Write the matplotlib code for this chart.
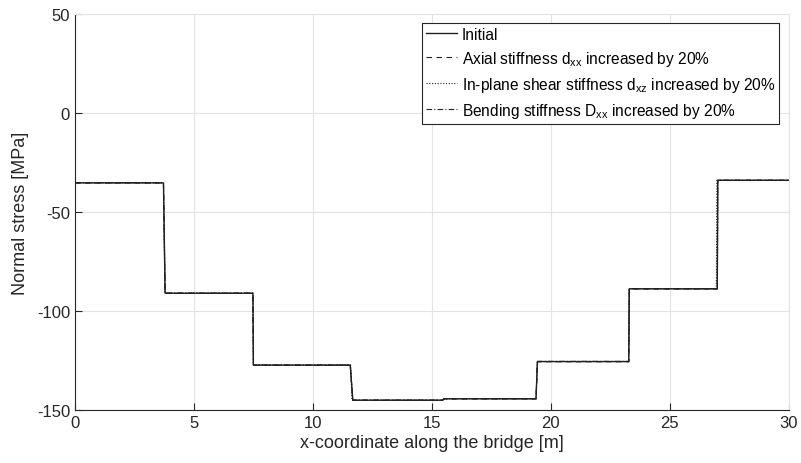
import matplotlib
matplotlib.use('Agg')
import matplotlib.pyplot as plt

plt.rcParams['font.family'] = ['Liberation Sans', 'DejaVu Sans']
plt.rcParams['mathtext.fontset'] = 'custom'
plt.rcParams['mathtext.rm'] = 'Liberation Sans'
plt.rcParams['mathtext.it'] = 'Liberation Sans'
plt.rcParams['axes.unicode_minus'] = False

# breakpoints along the bridge [m] and normal stress [MPa]
x_initial = [0, 3.72, 3.79, 7.48, 7.50, 11.57, 11.68, 15.45, 15.52, 19.38, 19.44, 23.28, 23.30, 27.00, 27.02, 30]
s_initial = [-35.3, -35.3, -91.0, -91.0, -127.3, -127.3, -145.0, -145.0, -144.3, -144.3, -125.5, -125.5, -88.8, -88.8, -34.0, -34.0]

x_axial = [0, 3.72, 3.79, 7.48, 7.50, 11.57, 11.68, 15.45, 15.52, 19.38, 19.44, 23.28, 23.30, 27.00, 27.02, 30]
s_axial = [-35.4, -35.4, -91.1, -91.1, -127.4, -127.4, -145.1, -145.1, -144.4, -144.4, -125.6, -125.6, -88.9, -88.9, -34.1, -34.1]

x_shear = [0, 3.72, 3.78, 7.48, 7.50, 11.59, 11.64, 15.45, 15.52, 19.38, 19.43, 23.27, 23.29, 26.96, 26.98, 30]
s_shear = [-35.3, -35.3, -91.0, -91.0, -127.2, -127.2, -145.0, -145.0, -144.3, -144.3, -125.5, -125.5, -88.7, -88.7, -34.0, -34.0]

x_bending = [0, 3.72, 3.79, 7.48, 7.50, 11.57, 11.68, 15.45, 15.52, 19.38, 19.44, 23.28, 23.30, 27.00, 27.02, 30]
s_bending = [-35.2, -35.2, -90.9, -90.9, -127.2, -127.2, -144.9, -144.9, -144.2, -144.2, -125.4, -125.4, -88.7, -88.7, -33.9, -33.9]

labels = ['Initial',
          r'Axial stiffness d$_{\rm xx}$ increased by 20%',
          r'In-plane shear stiffness d$_{\rm xz}$ increased by 20%',
          r'Bending stiffness D$_{\rm xx}$ increased by 20%']

axis_color = '#262626'

fig = plt.figure(figsize=(8.01, 4.64), dpi=100, facecolor='white')
ax = fig.add_axes([0.0936, 0.114, 0.891, 0.854])

ax.plot(x_initial, s_initial, color='#202020', linestyle='-', linewidth=1.0, label=labels[0])
ax.plot(x_axial, s_axial, color='#202020', linestyle=(0, (5, 4)), linewidth=0.8, label=labels[1])
ax.plot(x_shear, s_shear, color='#202020', linestyle=(0, (1, 1.5)), linewidth=0.8, label=labels[2])
ax.plot(x_bending, s_bending, color='#202020', linestyle=(0, (5, 2, 1, 2)), linewidth=0.8, label=labels[3])

ax.set_xlim(0, 30)
ax.set_ylim(-150, 50)
ax.set_xticks([0, 5, 10, 15, 20, 25, 30])
ax.set_yticks([-150, -100, -50, 0, 50])
ax.grid(True, color='#e3e3e3', linewidth=0.8)
ax.set_axisbelow(True)

for side in ['left', 'bottom']:
    ax.spines[side].set_color(axis_color)
    ax.spines[side].set_linewidth(0.8)
for side in ['top', 'right']:
    ax.spines[side].set_color('#e3e3e3')
    ax.spines[side].set_linewidth(0.8)

ax.tick_params(direction='in', length=5, width=0.8, colors=axis_color, labelsize=12,
               top=False, right=False)
ax.set_xlabel('x-coordinate along the bridge [m]', fontsize=13, color=axis_color, labelpad=3)
ax.set_ylabel('Normal stress [MPa]', fontsize=13, color=axis_color, labelpad=6)

leg = ax.legend(loc='upper right', bbox_to_anchor=(0.9865, 0.977), fontsize=11.2,
                frameon=True, fancybox=False, edgecolor='#262626', framealpha=1,
                handlelength=2.0, handletextpad=0.3, borderpad=0.25, labelspacing=0.45,
                borderaxespad=0)
leg.get_frame().set_linewidth(0.8)

fig.savefig('out.png', dpi=100, facecolor='white')
